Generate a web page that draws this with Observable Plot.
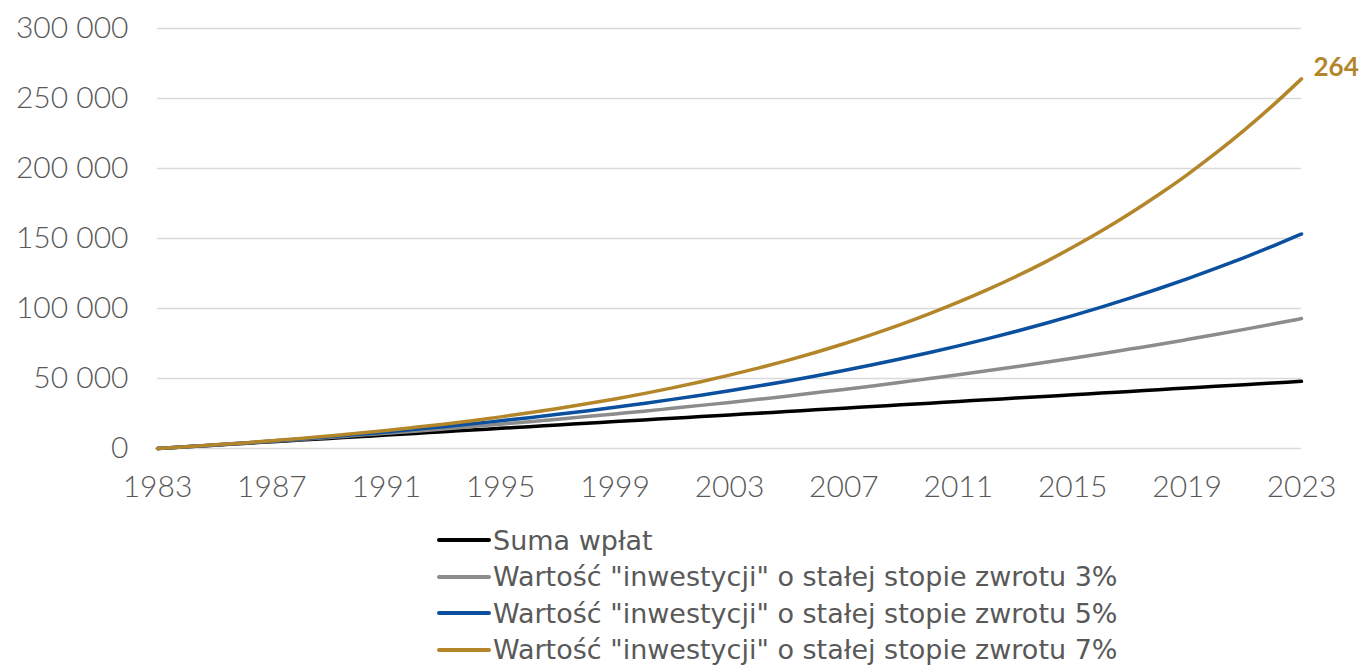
<!DOCTYPE html>
<html><head><meta charset="utf-8">
<script src="https://cdn.jsdelivr.net/npm/d3@7"></script>
<script src="https://cdn.jsdelivr.net/npm/@observablehq/plot@0.6"></script>
<style>
body{margin:0;background:#fff;width:1363px;height:666px;overflow:hidden}
#legend{position:absolute;left:437px;top:522px;font-family:"DejaVu Sans",sans-serif;font-size:27px;color:#595959}
.row{height:36.5px;display:flex;align-items:center;white-space:nowrap;line-height:1}
.sw{width:54px;height:4px;border-radius:2px;margin-right:2px}
</style></head><body>
<div id="chart"></div>
<div id="legend"></div>
<script>
const years = [1983,1984,1985,1986,1987,1988,1989,1990,1991,1992,1993,1994,1995,1996,1997,1998,1999,2000,2001,2002,2003,2004,2005,2006,2007,2008,2009,2010,2011,2012,2013,2014,2015,2016,2017,2018,2019,2020,2021,2022,2023];
const sumaWplat = [0,1200,2400,3600,4800,6000,7200,8400,9600,10800,12000,13200,14400,15600,16800,18000,19200,20400,21600,22800,24000,25200,26400,27600,28800,30000,31200,32400,33600,34800,36000,37200,38400,39600,40800,42000,43200,44400,45600,46800,48000];
const wartosc3 = [0,1200,2500,3800,5100,6500,7900,9400,10900,12400,14000,15700,17400,19100,20900,22800,24700,26600,28700,30800,32900,35100,37400,39800,42200,44700,47300,50000,52700,55500,58400,61400,64500,67700,71000,74300,77800,81400,85100,88900,92800];
const wartosc5 = [0,1200,2500,3900,5300,6800,8400,10100,11800,13700,15600,17600,19800,22000,24400,26800,29400,32200,35100,38100,41300,44600,48100,51800,55700,59800,64100,68600,73300,78300,83600,89100,94900,101000,107400,114100,121200,128600,136400,144600,153200];
const wartosc7 = [0,1200,2600,4000,5600,7200,9000,10900,12900,15100,17400,19900,22600,25500,28600,31900,35400,39200,43300,47700,52400,57400,62800,68600,74800,81500,88600,96300,104500,113300,122700,132800,143700,155300,167800,181200,195500,210900,227400,245100,264000];
const seriesNames = ["Suma wpłat","Wartość \"inwestycji\" o stałej stopie zwrotu 3%","Wartość \"inwestycji\" o stałej stopie zwrotu 5%","Wartość \"inwestycji\" o stałej stopie zwrotu 7%"];
const seriesColors = ["#000000","#8c8c8c","#0b4f9f","#b3862a"];
const xTicks = [1983,1987,1991,1995,1999,2003,2007,2011,2015,2019,2023];
const yTicks = [0,50000,100000,150000,200000,250000,300000];

const seriesValues = [sumaWplat, wartosc3, wartosc5, wartosc7];
const rows = [];
seriesValues.forEach((vals, s) => vals.forEach((v, i) => rows.push({year: years[i], value: v, series: seriesNames[s]})));
const last = [{year: years[years.length-1], value: wartosc7[wartosc7.length-1]}];
const fmt = d3.formatLocale({thousands: " ", grouping: [3], decimal: ","}).format(",");

const chart = Plot.plot({
  width: 1363, height: 520,
  marginLeft: 157, marginRight: 62, marginTop: 28, marginBottom: 72,
  style: {fontFamily: "Lato, sans-serif", fontSize: "30px", fontWeight: 300, color: "#595959", background: "#fff"},
  x: {domain: [1983, 2023], ticks: xTicks, tickFormat: d => String(d), tickSize: 0, tickPadding: 27, label: null},
  y: {domain: [0, 300000], ticks: yTicks, tickFormat: fmt, tickSize: 0, tickPadding: 29, label: null},
  color: {domain: seriesNames, range: seriesColors},
  marks: [
    Plot.ruleY(yTicks, {stroke: "#d9d9d9", strokeWidth: 1.5}),
    Plot.lineY(rows, {x: "year", y: "value", stroke: "series", strokeWidth: 3.5, curve: "monotone-x"}),
    Plot.text(last, {x: "year", y: "value", text: d => String(Math.round(d.value/1000)), textAnchor: "start", dx: 12, dy: -11, fill: "#b3862a", fontWeight: "bold", fontSize: 26})
  ]
});
document.getElementById("chart").appendChild(chart);

const lg = document.getElementById("legend");
seriesNames.forEach((n, i) => {
  const r = document.createElement("div"); r.className = "row";
  const sw = document.createElement("div"); sw.className = "sw"; sw.style.background = seriesColors[i];
  const t = document.createElement("span"); t.textContent = n;
  r.appendChild(sw); r.appendChild(t); lg.appendChild(r);
});
</script>
</body></html>
